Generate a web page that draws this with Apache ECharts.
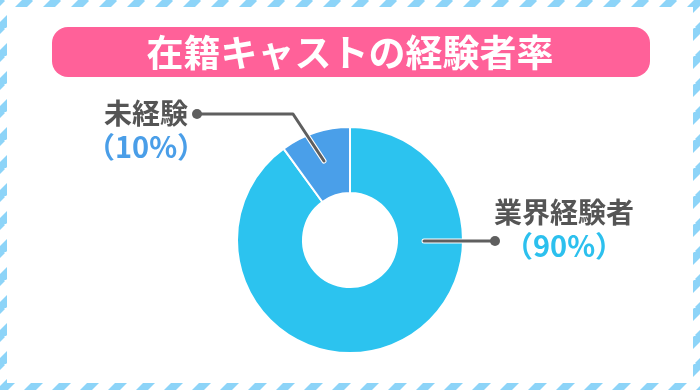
<!DOCTYPE html>
<html><head><meta charset="utf-8">
<script src="https://cdn.jsdelivr.net/npm/echarts@6/dist/echarts.min.js"></script>
<style>html,body{margin:0;padding:0;background:#fff}#c{width:700px;height:390px}</style>
</head><body><div id="c"></div>
<script>
const titleText = '在籍キャストの経験者率';
const categories = ['業界経験者', '未経験'];
const values = [90, 10];
const sliceColors = ['#2cc3ef', '#4a9fe9'];
const pctColors = ['#2cc0ee', '#4a9ee8'];

// striped border pattern
const tile = document.createElement('canvas');
tile.width = 28; tile.height = 28;
const g = tile.getContext('2d');
g.fillStyle = '#ffffff'; g.fillRect(0,0,28,28);
g.strokeStyle = '#8dd4f8'; g.lineWidth = 8.5;
for (let k = -1; k <= 1; k++) {
  g.beginPath(); g.moveTo(k*28 - 2, 30); g.lineTo(k*28 + 30, -2); g.stroke();
}

const chart = echarts.init(document.getElementById('c'));
const font = '"Noto Sans CJK JP", "Noto Sans", sans-serif';
const labelPos = {
  '業界経験者': {x: 564, y: 195, line: [[424,241],[495,241]]},
  '未経験': {x: 146, y: 96, line: [[324,161],[293,114],[197,114]]}
};
const lineGraphics = [];
categories.forEach(c => {
  const L = labelPos[c];
  lineGraphics.push({type: 'polyline', shape: {points: L.line}, style: {stroke: '#fff', lineWidth: 5, lineCap: 'round', lineJoin: 'round', fill: null}, z: 99});
  lineGraphics.push({type: 'polyline', shape: {points: L.line}, style: {stroke: '#5f5f5f', lineWidth: 3, lineCap: 'round', lineJoin: 'round', fill: null}, z: 100});
  const e = L.line[L.line.length - 1];
  lineGraphics.push({type: 'circle', shape: {cx: e[0], cy: e[1], r: 5}, style: {fill: '#5f5f5f'}, z: 101});
});
chart.setOption({
  backgroundColor: {image: tile, repeat: 'repeat'},
  graphic: [
    {type: 'rect', shape: {x: 7, y: 7, width: 686, height: 376}, style: {fill: '#fff'}, z: -10},
    {type: 'rect', shape: {x: 52, y: 27, width: 598, height: 50, r: 16}, style: {fill: '#ff6199'}},
    {type: 'text', x: 350, y: 53, style: {text: titleText, fill: '#fff', font: 'bold 37px ' + font, textAlign: 'center', textVerticalAlign: 'middle'}}
  ].concat(lineGraphics),
  series: [{
    type: 'pie',
    center: [350, 240],
    radius: [47, 113],
    startAngle: 90,
    clockwise: true,
    silent: true,
    itemStyle: {borderColor: '#fff', borderWidth: 2},
    data: categories.map((c, i) => ({name: c, value: values[i], itemStyle: {color: sliceColors[i]},
      label: {rich: {p: {color: pctColors[i]}}}})),
    label: {
      show: true,
      align: 'center',
      formatter: p => '{n|' + p.name + '}\n{p|（' + p.value + '%）}',
      rich: {
        n: {fontFamily: font, fontWeight: 'bold', fontSize: 28, color: '#555', lineHeight: 34, align: 'center'},
        p: {fontFamily: font, fontWeight: 600, fontSize: 29, lineHeight: 34, align: 'center'}
      }
    },
    labelLine: {show: false},
    labelLayout: p => {
      const L = labelPos[categories[p.dataIndex]];
      return {x: L.x, y: L.y, align: 'center', verticalAlign: 'top'};
    }
  }]
});
</script></body></html>
